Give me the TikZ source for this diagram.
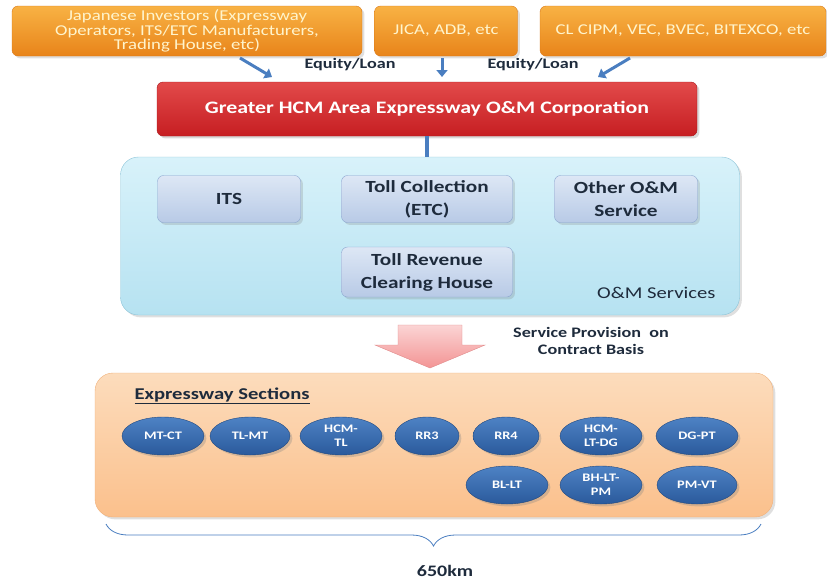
\documentclass[tikz,border=0pt]{standalone}
\usepackage{fontspec}
\setmainfont{Carlito}[FakeStretch=1.25]
\usetikzlibrary{shapes.geometric,shadows,decorations.pathreplacing,arrows.meta}

\definecolor{orangetop}{HTML}{F8B244}
\definecolor{orangebot}{HTML}{E8841A}
\definecolor{orangeline}{HTML}{D9791A}
\definecolor{paleyellow}{HTML}{FFF4CC}
\definecolor{redtop}{HTML}{E24A4A}
\definecolor{redbot}{HTML}{C61E22}
\definecolor{redline}{HTML}{A8181C}
\definecolor{omstop}{HTML}{D8F2FA}
\definecolor{omsbot}{HTML}{B6E2F1}
\definecolor{omsline}{HTML}{8CC4D8}
\definecolor{svctop}{HTML}{DDE7F5}
\definecolor{svcbot}{HTML}{B8CAE6}
\definecolor{svcline}{HTML}{8AA5CF}
\definecolor{sectop}{HTML}{FCDCBC}
\definecolor{secbot}{HTML}{FBC08C}
\definecolor{secline}{HTML}{F0B07A}
\definecolor{elltop}{HTML}{4E82C4}
\definecolor{ellbot}{HTML}{2A5A9C}
\definecolor{ellline}{HTML}{22497F}
\definecolor{pinktop}{HTML}{FBD4D4}
\definecolor{pinkbot}{HTML}{F39494}
\definecolor{pinkline}{HTML}{E08A8A}
\definecolor{arrowblue}{HTML}{4A7EC0}
\definecolor{darktext}{HTML}{1E2B3C}

\begin{document}
\begin{tikzpicture}[x=1pt,y=1pt,
    fund/.style={rectangle,rounded corners=6pt,draw=orangeline,top color=orangetop,bottom color=orangebot,
      text=paleyellow,font=\fontsize{15}{14.5}\selectfont,align=center,minimum height=50pt,inner sep=0pt,
      drop shadow={opacity=0.25}},
    corp/.style={rectangle,rounded corners=6pt,draw=redline,top color=redtop,bottom color=redbot,
      text=white,font=\fontsize{17.5}{20}\selectfont\bfseries,minimum width=540pt,minimum height=54pt,
      drop shadow={opacity=0.3}},
    oms/.style={rectangle,rounded corners=18pt,draw=omsline,top color=omstop,bottom color=omsbot,
      drop shadow={opacity=0.25}},
    svc/.style={rectangle,rounded corners=6pt,draw=svcline,top color=svctop,bottom color=svcbot,
      text=darktext,font=\fontsize{17}{23}\selectfont\bfseries,align=center,minimum height=47pt,
      inner sep=0pt,drop shadow={opacity=0.25}},
    sec/.style={rectangle,rounded corners=18pt,draw=secline,top color=sectop,bottom color=secbot,
      drop shadow={opacity=0.25}},
    road/.style={ellipse,draw=ellline,top color=elltop,bottom color=ellbot,text=white,
      font=\fontsize{11.5}{14}\selectfont\bfseries,align=center,minimum width=82pt,minimum height=38pt,
      inner sep=0pt,drop shadow={opacity=0.3}},
    loan/.style={text=darktext,font=\fontsize{14.5}{17}\selectfont\bfseries},
    flow/.style={draw=arrowblue,line width=3pt,-{Triangle[length=7pt,width=11pt]}}]

\useasboundingbox (0,0) rectangle (827,-582);

% investors
\node[fund,minimum width=350pt] (jpn) at (187,-31) {Japanese Investors (Expressway\\Operators, ITS/ETC Manufacturers,\\Trading House, etc)};
\node[fund,minimum width=143pt] (jica) at (446,-31) {JICA, ADB, etc};
\node[fund,minimum width=286pt] (local) at (683,-31) {CL CIPM, VEC, BVEC, BITEXCO, etc};

\node[corp] (corp) at (427,-109) {Greater HCM Area Expressway O\&M Corporation};

\node[loan] (loan1) at (350,-65) {Equity/Loan};
\node[loan] (loan2) at (533,-65) {Equity/Loan};

\coordinate (j1) at (240,-58);
\coordinate (c1) at (272,-77);
\coordinate (j2) at (442,-58);
\coordinate (c2) at (442,-77);
\coordinate (j3) at (630,-58);
\coordinate (c3) at (598,-77);
\draw[flow] (j1) -- (c1);
\draw[flow] (j2) -- (c2);
\draw[flow] (j3) -- (c3);

% O&M services
\node[oms,minimum width=619pt,minimum height=158pt] (oms) at (430,-236) {};
\draw[draw=arrowblue,line width=4pt] (corp.south) -- (corp.south |- oms.north);

\node[svc,minimum width=143pt] (its) at (229,-199) {ITS};
\node[svc,minimum width=171pt] (toll) at (427,-199) {Toll Collection\\(ETC)};
\node[svc,minimum width=143pt] (other) at (626,-199) {Other O\&M\\Service};
\node[svc,minimum width=171pt,minimum height=50pt] (clear) at (427,-272) {Toll Revenue\\Clearing House};
\node[anchor=east,text=darktext,font=\fontsize{16.5}{18}\selectfont] (omslabel) at (719,-293) {O\&M Services};

% contract arrow
\draw[draw=pinkline,top color=pinktop,bottom color=pinkbot] (398,-325) -- (462,-325) -- (462,-345) -- (485,-345)
  -- (430,-368) -- (375,-345) -- (398,-345) -- cycle;
\node[text=darktext,font=\fontsize{14.5}{17}\selectfont\bfseries,align=center] (contract) at (591,-341)
  {Service Provision~~on\\Contract Basis};

% expressway sections
\node[sec,minimum width=678pt,minimum height=144pt] (sec) at (434,-445) {};
\node[anchor=west,text=darktext,font=\fontsize{16.5}{19}\selectfont\bfseries] (sectitle) at (131,-396)
  {\underline{Expressway Sections}};

\node[road] (mtct) at (163,-436) {MT-CT};
\node[road,minimum width=80pt] (tlmt) at (250,-436) {TL-MT};
\node[road] (hcmtl) at (341,-436) {HCM-\\TL};
\node[road,minimum width=64pt] (rr3) at (427,-436) {RR3};
\node[road,minimum width=66pt] (rr4) at (506,-436) {RR4};
\node[road] (hcmltdg) at (601,-436) {HCM-\\LT-DG};
\node[road] (dgpt) at (697,-436) {DG-PT};
\node[road] (bllt) at (507,-485) {BL-LT};
\node[road] (bhltpm) at (601,-485) {BH-LT-\\PM};
\node[road,minimum width=80pt] (pmvt) at (697,-485) {PM-VT};

% length
\draw[draw=arrowblue,line width=0.8pt,decorate,decoration={brace,mirror,amplitude=22pt,aspect=0.5}]
  (106,-524) -- (761,-524);
\node[text=darktext,font=\fontsize{16}{18}\selectfont\bfseries] (length) at (445,-571) {650km};
\end{tikzpicture}
\end{document}
